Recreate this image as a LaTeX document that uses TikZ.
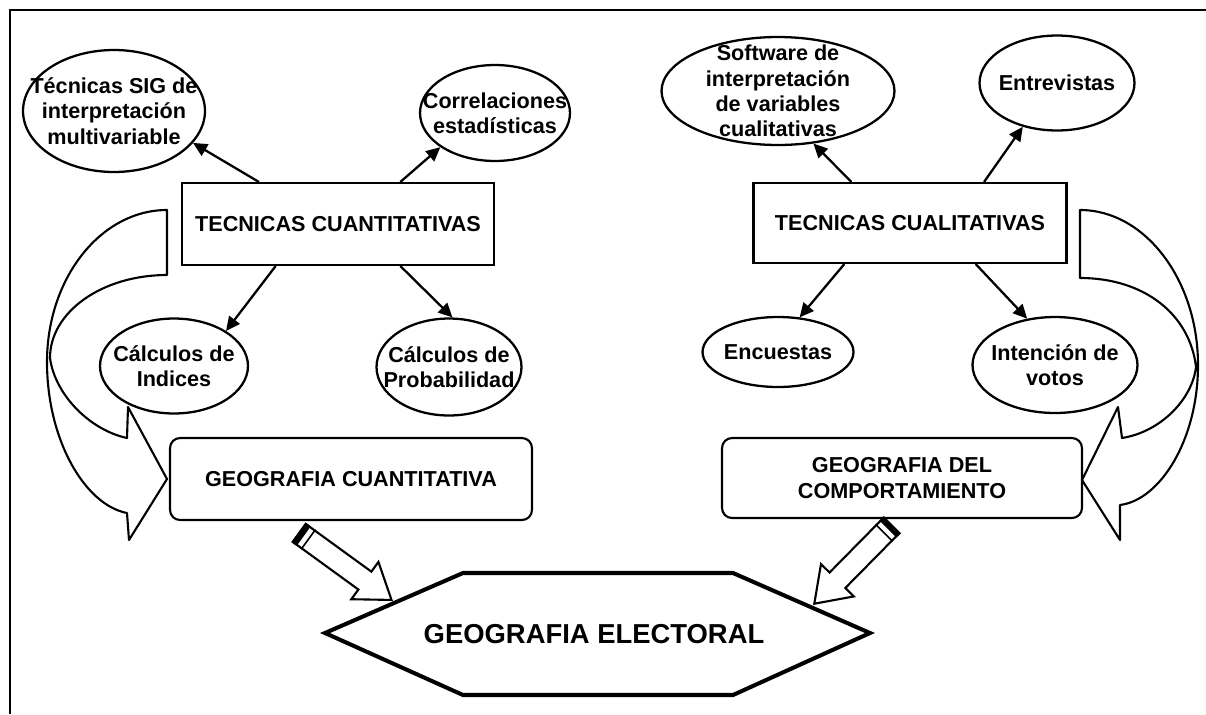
\documentclass[tikz,border=0pt]{standalone}
\usepackage{fontspec}
\setmainfont{Liberation Sans}
\usetikzlibrary{shapes.geometric,shapes.arrows,arrows.meta,calc}
\begin{document}
\begin{tikzpicture}[x=0.02cm, y=-0.02cm, font=\fontsize{12.3}{14.4}\selectfont\bfseries]
	\tikzstyle{block} = [rectangle,draw,line width=1.2pt,minimum width=6.24cm,minimum height=1.64cm]
	\tikzstyle{rblock} = [block,rounded corners=0.2cm,minimum width=7.24cm]
	\tikzstyle{oval} = [ellipse,draw,fill=white,line width=1.3pt,inner sep=0pt]
	\tikzstyle{flow} = [draw,fill=white,line width=1.2pt,line join=round]
	\tikzstyle{pencil} = [single arrow,draw,fill=white,line width=1.2pt,inner xsep=0pt,inner ysep=0.2cm,single arrow head extend=0.24cm,single arrow tip angle=70,anchor=tip]
	\tikzstyle{arr} = [-{Triangle[length=8pt,width=7.5pt]},line width=1.3pt]
	\useasboundingbox (0,0) rectangle (1206,714);
	\draw[line width=1.7pt] (10,714) -- (10,10) -- (1206,10);
	\path[flow] (167,210) .. controls (101,210) and (47,278) .. (47,362) .. controls (47,440) and (85,505) .. (127,513) -- (129,540) -- (167,479) -- (128,407) -- (127,438) .. controls (90,430) and (55,395) .. (50,358) .. controls (50,312) and (102,275) .. (167,275) -- cycle;
	\path[flow] (1080,210) .. controls (1145,210) and (1198,280) .. (1198,365) .. controls (1198,440) and (1160,500) .. (1120,505) -- (1120,540) -- (1082,480) -- (1118,407) -- (1122,438) .. controls (1160,432) and (1192,400) .. (1196,367) .. controls (1190,315) and (1145,278) .. (1080,278) -- cycle;
	\node[block](cuant)at(338,224){TECNICAS CUANTITATIVAS};
	\node[block,minimum width=6.26cm,minimum height=1.6cm](cual)at(910,223){TECNICAS CUALITATIVAS};
	\node[rblock](geocuant)at(351,479){GEOGRAFIA CUANTITATIVA};
	\node[rblock,minimum width=7.2cm,minimum height=1.6cm,align=center](geocomp)at(902,478){GEOGRAFIA DEL\\COMPORTAMIENTO};
	\node[oval,minimum width=3.64cm,minimum height=2.44cm,label={[align=center]center:Técnicas SIG de\\interpretación\\multivariable}](sig)at(114,111){};
	\node[oval,minimum width=3cm,minimum height=1.92cm,label={[align=center]center:Correlaciones\\estadísticas}](corr)at(495,113){};
	\node[oval,minimum width=2.96cm,minimum height=1.9cm,label={[align=center]center:Cálculos de\\Indices}](indices)at(174,366){};
	\node[oval,minimum width=2.9cm,minimum height=1.94cm,label={[align=center]center:Cálculos de\\Probabilidad}](prob)at(449,367){};
	\node[oval,minimum width=4.66cm,minimum height=2.16cm,label={[align=center]center:Software de\\interpretación\\de variables\\cualitativas}](soft)at(778,91){};
	\node[oval,minimum width=3.1cm,minimum height=1.9cm,label={center:Entrevistas}](entre)at(1057,83){};
	\node[oval,minimum width=3.02cm,minimum height=1.4cm,label={center:Encuestas}](encu)at(778,352){};
	\node[oval,minimum width=3.3cm,minimum height=1.92cm,label={[align=center]center:Intención de\\votos}](voto)at(1055,365){};
	\path[arr] (cuant.152) edge (sig.-22)
	(cuant.34) edge (corr.212)
	(cuant.214) edge (indices.34)
	(cuant.326) edge (prob.86);
	\path[arr] (cual.145) edge (soft.304)
	(cual.29) edge (entre.232)
	(cual.212) edge (encu.58)
	(cual.328) edge (voto.121);
	\draw[line width=2.3pt] (325,633) -- (463,573) -- (733,573) -- (870,633) -- (733,695) -- (463,695) -- cycle;
	\node[font=\fontsize{15.6}{18}\selectfont\bfseries](elect)at(594,634){GEOGRAFIA ELECTORAL};
	\node[pencil,minimum height=2.28cm,rotate=-36](pl)at(393,601){};
	\node[pencil,minimum height=2.2cm,rotate=-134.6](pr)at(813,605){};
	\fill (pl.before tail) -- (pl.after tail) -- ($(pl.after tail)!0.08!(pl.before head)$) -- ($(pl.before tail)!0.08!(pl.after head)$) -- cycle;
	\draw[line width=0.9pt] ($(pl.after tail)!0.15!(pl.before head)$) -- ($(pl.before tail)!0.15!(pl.after head)$);
	\fill (pr.before tail) -- (pr.after tail) -- ($(pr.after tail)!0.08!(pr.before head)$) -- ($(pr.before tail)!0.08!(pr.after head)$) -- cycle;
	\draw[line width=0.9pt] ($(pr.after tail)!0.15!(pr.before head)$) -- ($(pr.before tail)!0.15!(pr.after head)$);
\end{tikzpicture}
\end{document}
